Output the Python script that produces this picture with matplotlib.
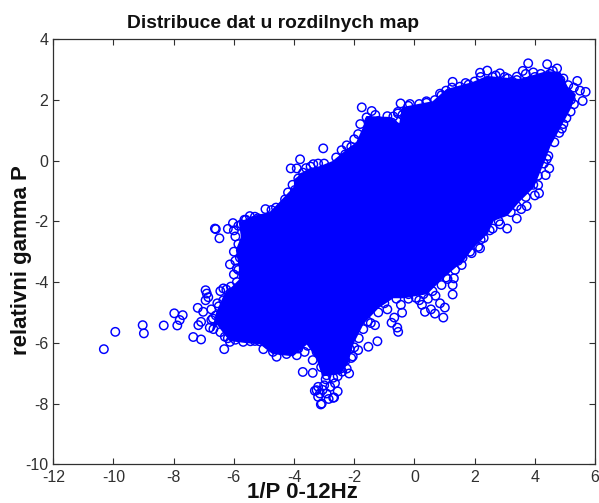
import matplotlib
matplotlib.use("Agg")
import matplotlib.pyplot as plt

plt.rcParams["font.family"] = ["Liberation Sans", "DejaVu Sans"]
plt.rcParams["axes.unicode_minus"] = False

xticks = [-12, -10, -8, -6, -4, -2, 0, 2, 4, 6]
yticks = [-10, -8, -6, -4, -2, 0, 2, 4]

# Saturated centre of the cloud: outline
core_x = [-6.69,-6.56,-6.30,-5.80,-5.80,-5.90,-5.73,-5.80,-5.37,-4.80,-4.47,-3.97,-3.97,-3.54,-3.14,-2.71,-2.14,-1.91,-1.64,-1.58,-0.81,-0.48,-0.38,0.62,1.08,1.94,2.41,3.50,4.40,4.83,5.06,5.33,5.17,4.83,4.50,4.27,3.94,3.50,3.07,2.61,2.41,1.94,1.61,0.94,0.41,-0.38,-0.71,-1.21,-1.71,-2.05,-2.24,-2.47,-3.04,-3.24,-3.57,-4.04,-4.70,-5.13,-5.56,-6.13,-6.56]
core_y = [-5.58,-5.02,-4.43,-3.94,-3.51,-2.95,-2.52,-2.06,-1.86,-1.73,-1.40,-0.87,-0.64,-0.31,-0.22,-0.05,0.41,0.57,1.17,1.43,1.40,1.17,1.73,1.92,2.32,2.55,2.75,2.65,2.91,2.88,2.42,2.16,1.73,1.10,0.51,-0.08,-0.87,-1.30,-1.79,-1.96,-2.39,-2.85,-3.28,-3.84,-4.37,-4.50,-4.50,-4.83,-5.35,-6.01,-6.67,-7.00,-7.07,-6.47,-6.01,-6.41,-6.34,-6.01,-5.98,-5.91,-5.35]

# Separate circles on the left and lower-left
left_x = [-10.32,-9.94,-9.03,-8.99,-8.33,-7.98,-7.70,-7.88,-7.35,-7.09,-6.32,-6.63,-6.60,-6.48,-6.13,-6.94,-6.90,-6.94,-7.20,-7.02,-7.09,-7.18,-6.68,-6.35,-6.13,-5.69,-5.30,-7.80,-6.85,-6.75,-6.55,-6.45,-6.60,-6.25,-6.10,-6.20,-5.95,-6.03,-5.85,-6.00,-5.90,-6.70,-6.20,-5.80]
left_y = [-6.21,-5.64,-5.42,-5.69,-5.43,-5.03,-5.09,-5.43,-5.81,-5.89,-6.21,-2.24,-2.26,-2.56,-3.42,-4.27,-4.38,-4.60,-4.85,-4.98,-5.31,-5.42,-5.55,-4.21,-5.97,-5.97,-5.94,-5.25,-4.50,-4.90,-4.70,-4.30,-5.10,-4.25,-4.35,-5.85,-5.90,-2.06,-2.15,-2.30,-3.55,-5.20,-2.25,-3.20]

# Circles along the upper edge
top_x = [-5.47,-5.20,-5.00,-4.75,-4.60,-4.30,-4.11,-3.97,-3.91,-3.86,-3.80,-3.60,-3.36,-3.20,-3.03,-2.42,-2.30,-2.10,-1.87,-1.75,-1.75,-1.59,-1.42,-1.20,-0.90,-0.75,-0.46,-0.40,-0.15,0.16,0.40,0.68,1.27,1.10,1.51,1.80,2.18,2.42,2.70,2.84,3.10,3.40,3.60,3.78,3.95,4.20,4.41,4.60,4.74,4.95,5.11,5.30,5.41,5.50,5.69,5.59,5.19,-5.75,-5.60,-4.95,-3.70,-1.50,-1.10,-0.55,0.90,1.05,2.00,2.60,3.25,3.70,4.30,4.85]
top_y = [-1.83,-1.90,-1.95,-1.63,-1.75,-1.28,-0.26,-0.97,-0.26,-0.59,0.04,-0.25,-0.12,-0.10,0.40,0.34,0.20,0.45,0.87,0.55,1.75,1.42,1.63,1.30,1.46,1.25,1.88,1.50,1.86,1.86,1.90,1.99,2.59,2.15,2.43,2.50,2.89,2.96,2.80,2.87,2.70,2.76,2.95,3.20,2.90,2.85,3.17,2.95,3.03,2.70,2.48,2.40,2.62,2.30,2.26,1.96,1.61,-2.10,-1.95,-1.60,-0.55,1.30,1.25,1.55,2.15,2.30,2.60,2.75,2.60,2.85,2.70,2.65]

# Circles along the lower-right edge
right_x = [4.81,4.95,4.48,4.36,4.40,4.11,4.14,4.00,3.73,3.55,3.40,3.08,2.85,2.60,2.30,2.12,2.18,1.90,1.57,1.45,1.31,1.27,1.27,1.10,0.96,1.01,0.85,0.68,0.55,0.35,0.25,0.16,0.45,0.70,0.05,-0.20,-0.41,-0.67,-0.76,-0.57,-0.54,-0.45,-0.90,-1.31,-1.45,-1.23,-1.53,-1.87]
right_y = [0.91,1.20,-0.26,-0.48,0.05,-0.81,-1.08,-1.15,-1.50,-1.60,-1.91,-2.24,-2.10,-2.24,-2.55,-2.84,-2.89,-3.05,-3.44,-3.30,-3.88,-4.10,-4.41,-3.90,-5.17,-4.84,-4.70,-5.04,-4.90,-4.98,-4.75,-4.60,-4.55,-4.45,-4.52,-4.55,-5.01,-5.17,-5.34,-5.50,-5.64,-4.75,-4.90,-5.42,-5.35,-5.95,-6.13,-6.24]

# Circles along the bottom edge and the lobe beneath it
low_x = [-5.02,-4.85,-4.70,-4.58,-4.40,-4.25,-4.10,-3.91,-3.86,-3.75,-3.71,-3.38,-3.38,-3.31,-3.25,-3.20,-3.14,-3.08,-3.11,-2.92,-2.92,-2.70,-2.67,-2.64,-2.80,-3.00,-2.17,-2.40,-2.55,-3.10,-2.95,-2.75,-2.50,-2.30,-2.05,-3.25,-3.05,-2.85,-2.60,-2.35,-2.15,-3.30,-3.55,-3.65,-3.90,-4.15,-4.35,-4.60,-4.85,-5.15,-5.45,-5.60,-5.85,-2.95,-2.70,-3.05,-3.20,-2.55,-2.45,-2.85]
low_y = [-6.21,-6.05,-6.30,-6.46,-6.25,-6.37,-6.10,-6.41,-6.19,-5.95,-6.96,-6.99,-6.57,-7.58,-7.56,-7.78,-7.67,-8.00,-8.03,-7.07,-7.67,-7.81,-7.80,-7.33,-7.45,-7.40,-7.01,-6.95,-7.10,-6.80,-6.60,-6.85,-6.70,-6.60,-6.45,-6.30,-6.35,-6.50,-6.45,-6.25,-6.20,-6.00,-6.10,-6.30,-5.95,-5.95,-6.05,-5.95,-5.85,-5.95,-5.95,-5.80,-5.75,-7.20,-7.15,-7.55,-7.45,-7.60,-6.85,-7.85]

# Circles that roughen the rim of the saturated centre
rim_x = [-5.95,-5.85,-6.00,-5.95,-5.85,-6.00,-5.90,-6.10,-5.65,-5.30,-6.35,-6.50,-6.75,-6.80,-6.45,-6.30,-4.60,-4.20,-4.05,-3.70,-3.45,-3.00,-2.60,-2.25,-2.00,-1.80,-1.30,-0.70,-0.55,-0.20,0.40,0.85,1.25,1.70,2.20,3.00,3.40,4.00,4.50,5.20,5.30,5.05,4.90,4.65,4.45,4.30,4.10,3.95,3.70,3.40,3.20,2.80,2.50,2.20,1.85,1.60,1.35,1.05,0.90,0.60,0.30,-0.20,-0.60,-1.00,-1.20,-1.55,-1.70,-1.85,-2.00,-2.10,-2.25]
rim_y = [-2.50,-2.75,-3.00,-3.30,-3.60,-3.75,-4.00,-4.15,-1.95,-1.85,-4.60,-4.80,-5.25,-5.50,-5.65,-5.80,-1.55,-1.05,-0.80,-0.40,-0.20,-0.10,0.10,0.50,0.70,1.20,1.50,1.45,1.60,1.80,1.95,2.20,2.40,2.55,2.75,2.75,2.65,2.75,2.85,2.00,1.85,1.40,1.05,0.60,0.15,-0.10,-0.50,-0.80,-1.20,-1.50,-1.70,-2.00,-2.30,-2.60,-3.00,-3.20,-3.60,-3.85,-4.10,-4.30,-4.40,-4.40,-4.55,-4.70,-5.00,-5.30,-5.55,-5.85,-6.15,-6.50,-6.85]

fig = plt.figure(figsize=(5.99, 5.03), dpi=100)
ax = fig.add_axes([53.3/599, 1 - 464.3/503, (595 - 53.3)/599, (464.3 - 39)/503])

blue = "#0000ff"
ax.fill(core_x, core_y, facecolor=blue, edgecolor=blue, lw=1.5, joinstyle="round", zorder=2)
for xs, ys in [(left_x, left_y), (top_x, top_y), (right_x, right_y), (low_x, low_y), (rim_x, rim_y)]:
    ax.scatter(xs, ys, s=37, facecolors="none", edgecolors=blue, linewidths=1.05, zorder=3)

ax.set_xlim(-12, 6)
ax.set_ylim(-10, 4)
ax.set_xticks(xticks)
ax.set_yticks(yticks)
ax.tick_params(direction="in", top=True, right=True, length=4.5, width=0.8, color="#303030",
               labelcolor="#303030", labelsize=11.5)
ax.tick_params(axis="x", pad=4)
ax.tick_params(axis="y", pad=3.5)
for s in ax.spines.values():
    s.set_color("#303030")
    s.set_linewidth(0.9)

fig.text(273/599, 1 - 24/503, "Distribuce dat u rozdilnych map",
         weight="bold", fontsize=13.9, ha="center", va="center", color="#101010")
fig.text(302/599, 1 - 492.5/503, "1/P 0-12Hz",
         weight="bold", fontsize=16, ha="center", va="center", color="#101010")
fig.text(22/599, 1 - 260/503, "relativni gamma P",
         weight="bold", fontsize=16, rotation=90, ha="center", va="center", color="#101010")

fig.savefig("out.png", dpi=100)
